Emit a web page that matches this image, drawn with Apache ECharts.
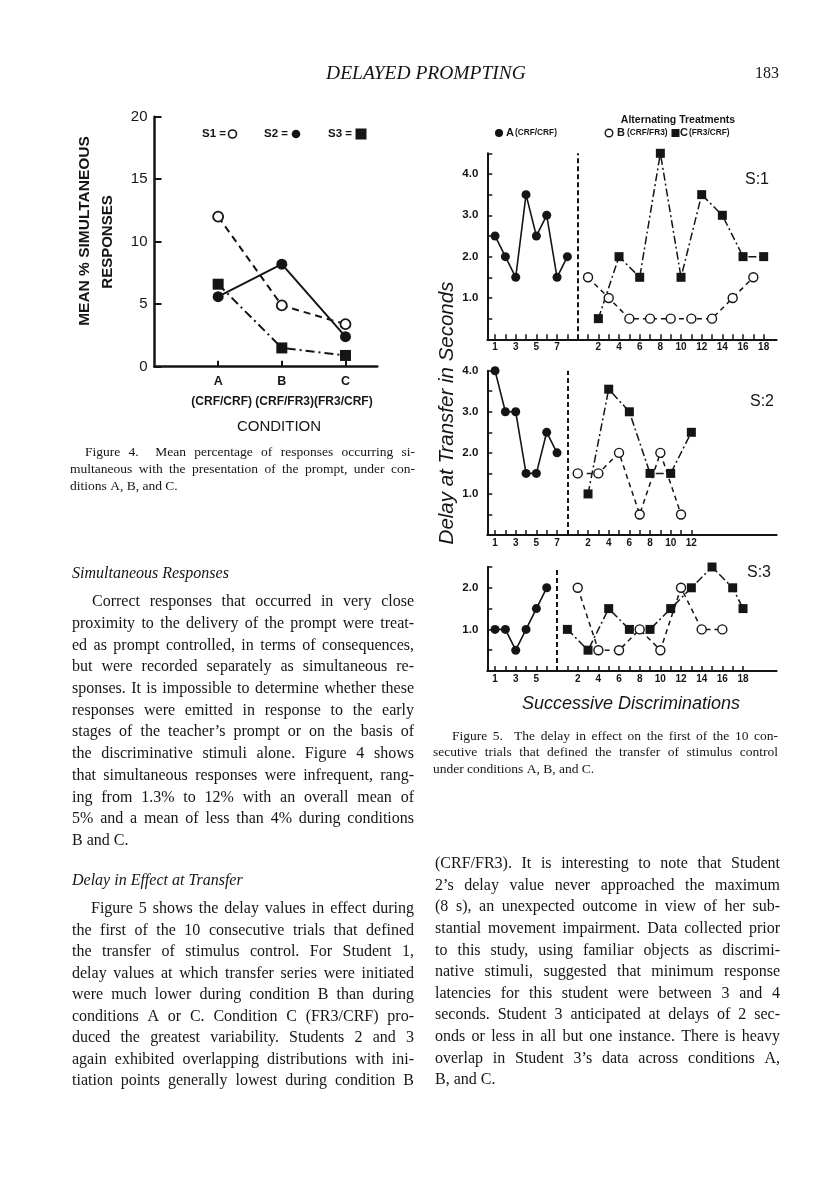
<!DOCTYPE html>
<html>
<head>
<meta charset="utf-8">
<script src="https://cdn.jsdelivr.net/npm/echarts@6/dist/echarts.min.js"></script>
<style>
html,body{margin:0;padding:0;background:#fff;}
#c{width:816px;height:1200px;}
</style>
</head>
<body>
<div id="c"></div>
<script>
// ---------------- Figure 4 data ----------------
const fig4Conditions = ['A', 'B', 'C'];
const fig4S1 = [12.0, 4.9, 3.4];   // open circles, dashed
const fig4S2 = [5.6, 8.2, 2.4];    // filled circles, solid
const fig4S3 = [6.6, 1.5, 0.9];    // filled squares, dash-dot

// ---------------- Figure 5 data ----------------
// Student 1
const s1A = [2.5, 2.0, 1.5, 3.5, 2.5, 3.0, 1.5, 2.0];
const s1BTrials = [1, 3, 5, 7, 9, 11, 13, 15, 17];
const s1B = [1.5, 1.0, 0.5, 0.5, 0.5, 0.5, 0.5, 1.0, 1.5];
const s1CTrials = [2, 4, 6, 8, 10, 12, 14, 16, 18];
const s1C = [0.5, 2.0, 1.5, 4.5, 1.5, 3.5, 3.0, 2.0, 2.0];
// Student 2
const s2A = [4.0, 3.0, 3.0, 1.5, 1.5, 2.5, 2.0];
const s2BTrials = [1, 3, 5, 7, 9, 11];
const s2B = [1.5, 1.5, 2.0, 0.5, 2.0, 0.5];
const s2CTrials = [2, 4, 6, 8, 10, 12];
const s2C = [1.0, 3.55, 3.0, 1.5, 1.5, 2.5];
// Student 3
const s3A = [1.0, 1.0, 0.5, 1.0, 1.5, 2.0];
const s3BTrials = [2, 4, 6, 8, 10, 12, 14, 16];
const s3B = [2.0, 0.5, 0.5, 1.0, 0.5, 2.0, 1.0, 1.0];
const s3CTrials = [1, 3, 5, 7, 9, 11, 13, 15, 17, 18];
const s3C = [1.0, 0.5, 1.5, 1.0, 1.0, 1.5, 2.0, 2.5, 2.0, 1.5];
const panelMaxTrials = [18, 12, 18];
const panelYMax = [4.5, 4.0, 2.5];

// ---------------- Text ----------------
const leftPara1 = [
  'Correct responses that occurred in very close',
  'proximity to the delivery of the prompt were treat-',
  'ed as prompt controlled, in terms of consequences,',
  'but were recorded separately as simultaneous re-',
  'sponses. It is impossible to determine whether these',
  'responses were emitted in response to the early',
  'stages of the teacher\u2019s prompt or on the basis of',
  'the discriminative stimuli alone. Figure 4 shows',
  'that simultaneous responses were infrequent, rang-',
  'ing from 1.3% to 12% with an overall mean of',
  '5% and a mean of less than 4% during conditions',
  'B and C.'
];
const leftPara2 = [
  'Figure 5 shows the delay values in effect during',
  'the first of the 10 consecutive trials that defined',
  'the transfer of stimulus control. For Student 1,',
  'delay values at which transfer series were initiated',
  'were much lower during condition B than during',
  'conditions A or C. Condition C (FR3/CRF) pro-',
  'duced the greatest variability. Students 2 and 3',
  'again exhibited overlapping distributions with ini-',
  'tiation points generally lowest during condition B'
];
const rightPara = [
  '(CRF/FR3). It is interesting to note that Student',
  '2\u2019s delay value never approached the maximum',
  '(8 s), an unexpected outcome in view of her sub-',
  'stantial movement impairment. Data collected prior',
  'to this study, using familiar objects as discrimi-',
  'native stimuli, suggested that minimum response',
  'latencies for this student were between 3 and 4',
  'seconds. Student 3 anticipated at delays of 2 sec-',
  'onds or less in all but one instance. There is heavy',
  'overlap in Student 3\u2019s data across conditions A,',
  'B, and C.'
];
const cap4 = [
  'Figure 4.  Mean percentage of responses occurring si-',
  'multaneous with the presentation of the prompt, under con-',
  'ditions A, B, and C.'
];
const cap5 = [
  'Figure 5.  The delay in effect on the first of the 10 con-',
  'secutive trials that defined the transfer of stimulus control',
  'under conditions A, B, and C.'
];

// ---------------- helpers ----------------
const INK = '#151515';
const SERIF = '"Liberation Serif", "Times New Roman", serif';
const SANS = '"Liberation Sans", Arial, sans-serif';
const meas = document.createElement('canvas').getContext('2d');

function T(x, y, text, font, align, extra) {
  align = align || 'left';
  return Object.assign({
    type: 'text', x: x, y: y, silent: true, z: 50,
    style: { text: text, font: font, fill: INK, align: align, verticalAlign: 'middle',
             textAlign: align, textVerticalAlign: 'middle' }
  }, extra || {});
}

function lineEls(text, x0, x1, y, font, justify, out) {
  if (!justify) { out.push(T(x0, y, text, font)); return; }
  meas.font = font;
  const parts = text.split(' ');
  const words = [], gaps = [];
  let w = 1;
  parts.forEach(function (p) {
    if (p === '') { w += 1; return; }
    if (words.length) gaps.push(w);
    w = 1;
    words.push(p);
  });
  if (words.length < 2) { out.push(T(x0, y, text, font)); return; }
  const widths = words.map(function (s) { return meas.measureText(s).width; });
  const total = widths.reduce(function (a, b) { return a + b; }, 0);
  const gw = gaps.reduce(function (a, b) { return a + b; }, 0);
  const unit = (x1 - x0 - total) / gw;
  let x = x0;
  words.forEach(function (s, i) {
    out.push(T(x, y, s, font));
    x += widths[i] + (i < gaps.length ? gaps[i] * unit : 0);
  });
}

function para(lines, x0, x1, indent, y0, step, font, lastJustified, out) {
  lines.forEach(function (ln, i) {
    const isLast = i === lines.length - 1;
    lineEls(ln, x0 + (i === 0 ? indent : 0), x1, y0 + i * step, font,
            !isLast || lastJustified, out);
  });
}

const G = [];
// header
G.push(T(426, 74, 'DELAYED PROMPTING', 'italic 19.5px ' + SERIF, 'center'));
G.push(T(779, 74, '183', '16px ' + SERIF, 'right'));

// left column text
const BODY = '16px ' + SERIF;
const BODYI = 'italic 16px ' + SERIF;
G.push(T(72, 574, 'Simultaneous Responses', BODYI));
para(leftPara1, 72, 414, 20, 602, 21.7, BODY, false, G);
G.push(T(72, 881, 'Delay in Effect at Transfer', BODYI));
para(leftPara2, 72, 414, 19, 909, 21.5, BODY, true, G);
// right column text
para(rightPara, 435, 780, 0, 864, 21.6, BODY, false, G);
// captions
const CAP = '13.5px ' + SERIF;
para(cap4, 70, 415, 15, 452, 17, CAP, false, G);
para(cap5, 433, 778, 19, 736, 16.8, CAP, false, G);

// ---- Figure 4 annotations ----
G.push(T(85, 231, 'MEAN % SIMULTANEOUS', 'bold 15.5px ' + SANS, 'center', { rotation: Math.PI / 2 }));
G.push(T(107.5, 242, 'RESPONSES', 'bold 15px ' + SANS, 'center', { rotation: Math.PI / 2 }));
G.push(T(202, 134, 'S1 =', 'bold 11.5px ' + SANS));
G.push({ type: 'circle', shape: { cx: 232.5, cy: 134, r: 4 }, style: { fill: '#fff', stroke: INK, lineWidth: 1.6 }, silent: true, z: 50 });
G.push(T(264, 134, 'S2 =', 'bold 11.5px ' + SANS));
G.push({ type: 'circle', shape: { cx: 296, cy: 134, r: 4.3 }, style: { fill: INK }, silent: true, z: 50 });
G.push(T(328, 134, 'S3 =', 'bold 11.5px ' + SANS));
G.push({ type: 'rect', shape: { x: 355.5, y: 128.5, width: 11, height: 11 }, style: { fill: INK }, silent: true, z: 50 });
G.push(T(282, 402, '(CRF/CRF) (CRF/FR3)(FR3/CRF)', 'bold 12px ' + SANS, 'center'));
G.push(T(279, 427, 'CONDITION', '15px ' + SANS, 'center'));

// ---- Figure 5 annotations ----
G.push(T(678, 120, 'Alternating Treatments', 'bold 10.5px ' + SANS, 'center'));
G.push({ type: 'circle', shape: { cx: 499, cy: 133, r: 4 }, style: { fill: INK }, silent: true, z: 50 });
G.push(T(506, 133, 'A', 'bold 11px ' + SANS));
G.push(T(515, 133, '(CRF/CRF)', 'bold 8.3px ' + SANS));
G.push({ type: 'circle', shape: { cx: 609, cy: 133, r: 3.8 }, style: { fill: '#fff', stroke: INK, lineWidth: 1.4 }, silent: true, z: 50 });
G.push(T(617, 133, 'B', 'bold 11px ' + SANS));
G.push(T(627, 133, '(CRF/FR3)', 'bold 8.3px ' + SANS));
G.push({ type: 'rect', shape: { x: 671.5, y: 129, width: 8, height: 8 }, style: { fill: INK }, silent: true, z: 50 });
G.push(T(680, 133, 'C', 'bold 11px ' + SANS));
G.push(T(689, 133, '(FR3/CRF)', 'bold 8.3px ' + SANS));
G.push(T(757, 180, 'S:1', '16px ' + SANS, 'center'));
G.push(T(762, 402, 'S:2', '16px ' + SANS, 'center'));
G.push(T(759, 573, 'S:3', '16px ' + SANS, 'center'));
G.push(T(447, 413, 'Delay at Transfer in Seconds', 'italic 20.5px ' + SANS, 'center', { rotation: Math.PI / 2 }));
G.push(T(631, 704, 'Successive Discriminations', 'italic 18px ' + SANS, 'center'));

// ---------------- chart option ----------------
const panels = [
  { A: s1A, BT: s1BTrials, B: s1B, CT: s1CTrials, C: s1C },
  { A: s2A, BT: s2BTrials, B: s2B, CT: s2CTrials, C: s2C },
  { A: s3A, BT: s3BTrials, B: s3B, CT: s3CTrials, C: s3C }
];
const grids = [
  { left: 154.5, top: 116.7, width: 222.8, height: 250 },
  { left: 487.3, top: 153.3, width: 289.3, height: 186 },
  { left: 487.3, top: 370.7, width: 289.3, height: 164.3 },
  { left: 487.3, top: 567, width: 289.3, height: 104 }
];
grids.forEach(function (g) { g.containLabel = false; g.outerBoundsMode = 'none'; });

const xAxes = [{
  type: 'value', gridIndex: 0, min: 0, max: 3.5,
  axisLine: { show: true, onZero: false, lineStyle: { color: INK, width: 2.5 } },
  axisTick: { show: true, inside: true, length: 6, customValues: [1, 2, 3], lineStyle: { color: INK, width: 2 } },
  axisLabel: { show: true, customValues: [1, 2, 3], formatter: function (v) { return fig4Conditions[Math.round(v) - 1] || ''; },
    margin: 8, color: INK, fontSize: 12.5, fontWeight: 'bold', fontFamily: SANS },
  splitLine: { show: false }
}];
const yAxes = [{
  type: 'value', gridIndex: 0, min: 0, max: 20, interval: 5,
  axisLine: { show: true, onZero: false, lineStyle: { color: INK, width: 2.5 } },
  axisTick: { show: true, inside: true, length: 7, lineStyle: { color: INK, width: 2 } },
  axisLabel: { margin: 7, color: INK, fontSize: 15, fontFamily: SANS },
  splitLine: { show: false }
}];
const series = [
  { type: 'line', xAxisIndex: 0, yAxisIndex: 0, z: 4,
    data: fig4S2.map(function (v, i) { return [i + 1, v]; }),
    symbol: 'circle', symbolSize: 11, itemStyle: { color: INK },
    lineStyle: { color: INK, width: 2 } },
  { type: 'line', xAxisIndex: 0, yAxisIndex: 0, z: 3,
    data: fig4S3.map(function (v, i) { return [i + 1, v]; }),
    symbol: 'rect', symbolSize: 11, itemStyle: { color: INK },
    lineStyle: { color: INK, width: 2, type: [9, 4, 2, 4] } },
  { type: 'line', xAxisIndex: 0, yAxisIndex: 0, z: 5,
    data: fig4S1.map(function (v, i) { return [i + 1, v]; }),
    symbol: 'circle', symbolSize: 10, itemStyle: { color: '#fff', borderColor: INK, borderWidth: 1.8 },
    lineStyle: { color: INK, width: 2, type: [7, 5] } }
];

panels.forEach(function (p, k) {
  const gi = k + 1;
  const nA = p.A.length;
  const off = nA + 1;
  const maxT = panelMaxTrials[k];
  const ticks = [], labels = {};
  for (let i = 1; i <= nA; i++) { ticks.push(i); if (i % 2 === 1) labels[i] = String(i); }
  for (let t = 1; t <= maxT; t++) { ticks.push(t + off); if (t % 2 === 0) labels[t + off] = String(t); }
  xAxes.push({
    type: 'value', gridIndex: gi, min: 0.25, max: 28.25,
    axisLine: { show: true, onZero: false, lineStyle: { color: INK, width: 2 } },
    axisTick: { show: true, inside: true, length: 5, customValues: ticks, lineStyle: { color: INK, width: 1.5 } },
    axisLabel: { show: true, customValues: Object.keys(labels).map(Number),
      formatter: function (v) { return labels[Math.round(v)] || ''; },
      margin: 3, color: INK, fontSize: 10, fontWeight: 'bold', fontFamily: SANS },
    splitLine: { show: false }
  });
  yAxes.push({
    type: 'value', gridIndex: gi, min: 0, max: panelYMax[k], interval: 0.5,
    axisLine: { show: true, onZero: false, lineStyle: { color: INK, width: 2 } },
    axisTick: { show: true, inside: true, length: 5, lineStyle: { color: INK, width: 1.5 } },
    axisLabel: { margin: 9, color: INK, fontSize: 11.5, fontWeight: 'bold', fontFamily: SANS,
      formatter: function (v) { return (v > 0 && Math.abs(v - Math.round(v)) < 1e-9) ? v.toFixed(1) : ''; } },
    splitLine: { show: false }
  });
  series.push({
    type: 'line', xAxisIndex: gi, yAxisIndex: gi, z: 3,
    data: p.A.map(function (v, i) { return [i + 1, v]; }),
    symbol: 'circle', symbolSize: 9, itemStyle: { color: INK },
    lineStyle: { color: INK, width: 1.6 },
    markLine: { silent: true, symbol: ['none', 'none'], label: { show: false },
      lineStyle: { color: INK, width: 2, type: [5, 3] },
      data: [{ xAxis: off }] }
  });
  series.push({
    type: 'line', xAxisIndex: gi, yAxisIndex: gi, z: 3,
    data: p.CT.map(function (t, i) { return [t + off, p.C[i]]; }),
    symbol: 'rect', symbolSize: 9, itemStyle: { color: INK },
    lineStyle: { color: INK, width: 1.5, type: [8, 3, 2, 3] }
  });
  series.push({
    type: 'line', xAxisIndex: gi, yAxisIndex: gi, z: 4,
    data: p.BT.map(function (t, i) { return [t + off, p.B[i]]; }),
    symbol: 'circle', symbolSize: 9, itemStyle: { color: '#fff', borderColor: INK, borderWidth: 1.4 },
    lineStyle: { color: INK, width: 1.5, type: [5, 4] }
  });
});

const chart = echarts.init(document.getElementById('c'), null, { renderer: 'canvas', width: 816, height: 1200 });
chart.setOption({
  animation: false,
  backgroundColor: '#ffffff',
  textStyle: { fontFamily: SANS },
  grid: grids,
  xAxis: xAxes,
  yAxis: yAxes,
  series: series.map(function (s) { s.emphasis = { disabled: true }; s.silent = true; return s; }),
  graphic: { elements: G }
});
</script>
</body>
</html>
